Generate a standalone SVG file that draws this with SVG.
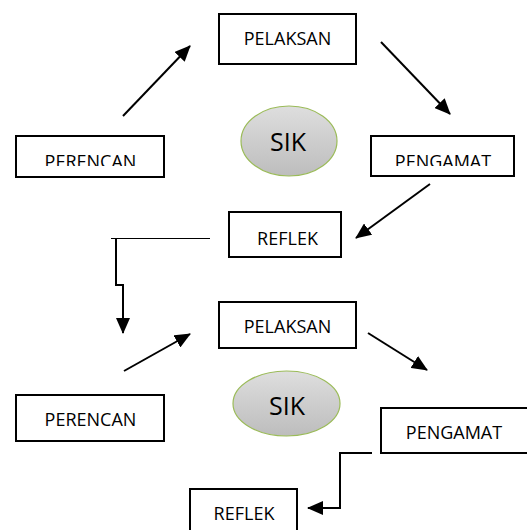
<svg xmlns="http://www.w3.org/2000/svg" width="527" height="530" viewBox="0 0 527 530">
<defs>
<style>
.box{fill:#fff;stroke:#000;stroke-width:2}
.lbl{font-family:"Open Sans","Noto Sans",sans-serif;font-size:18px;fill:#000;text-anchor:middle}
.sik{font-family:"Open Sans","Noto Sans",sans-serif;font-size:25px;fill:#000;text-anchor:middle}
.ell{fill:url(#g);stroke:#9bbb59;stroke-width:1.2}
.c{fill:none;stroke:#000;stroke-width:2}
</style>
<linearGradient id="g" x1="0" y1="0" x2="0" y2="1">
<stop offset="0" stop-color="#dedede"/>
<stop offset="1" stop-color="#bdbdbd"/>
</linearGradient>
<marker id="ah" viewBox="0 0 16 14" refX="15" refY="7" markerWidth="16" markerHeight="14" markerUnits="userSpaceOnUse" orient="auto">
<path d="M0,0 L16,7 L0,14 Z" fill="#000"/>
</marker>
<clipPath id="cut"><rect x="0" y="0" width="527" height="166"/></clipPath>
</defs>
<g id="connectors">
<line class="c" x1="123" y1="116" x2="190" y2="46" marker-end="url(#ah)"/>
<line class="c" x1="381" y1="42" x2="450" y2="114" marker-end="url(#ah)"/>
<line class="c" x1="430" y1="184" x2="356" y2="238" marker-end="url(#ah)"/>
<line x1="111" y1="238.5" x2="210" y2="238.5" stroke="#000" stroke-width="1"/>
<polyline class="c" points="116,238 116,285 123,285 123,333" marker-end="url(#ah)"/>
<line class="c" x1="124" y1="371" x2="190" y2="334" marker-end="url(#ah)"/>
<line class="c" x1="368" y1="333" x2="427" y2="370" marker-end="url(#ah)"/>
<polyline class="c" points="372,453 340,453 340,508 308,508" marker-end="url(#ah)"/>
</g>
<g id="pelaksan1"><rect class="box" x="219" y="14" width="137" height="50"/><text class="lbl" x="287.5" y="45">PELAKSAN</text></g>
<g id="sik1"><ellipse class="ell" cx="289" cy="141" rx="48" ry="35"/><text class="sik" x="288" y="151">SIK</text></g>
<g id="perencan1"><rect class="box" x="16" y="136" width="148" height="41"/><text class="lbl" x="90.5" y="168" clip-path="url(#cut)">PERENCAN</text></g>
<g id="pengamat1"><rect class="box" x="371" y="136" width="143" height="40"/><text class="lbl" x="443" y="168" clip-path="url(#cut)">PENGAMAT</text></g>
<g id="reflek1"><rect class="box" x="229" y="212" width="112" height="45"/><text class="lbl" x="287.5" y="245">REFLEK</text></g>
<g id="pelaksan2"><rect class="box" x="219" y="302" width="137" height="46"/><text class="lbl" x="287.5" y="333">PELAKSAN</text></g>
<g id="sik2"><ellipse class="ell" cx="286.5" cy="403.5" rx="53.5" ry="32.5"/><text class="sik" x="287" y="415">SIK</text></g>
<g id="perencan2"><rect class="box" x="16" y="395" width="148" height="46"/><text class="lbl" x="90.5" y="426">PERENCAN</text></g>
<g id="pengamat2"><rect class="box" x="381" y="408" width="150" height="45"/><text class="lbl" x="454" y="439">PENGAMAT</text></g>
<g id="reflek2"><rect class="box" x="190" y="489" width="107" height="50"/><text class="lbl" x="244" y="520">REFLEK</text></g>
</svg>
